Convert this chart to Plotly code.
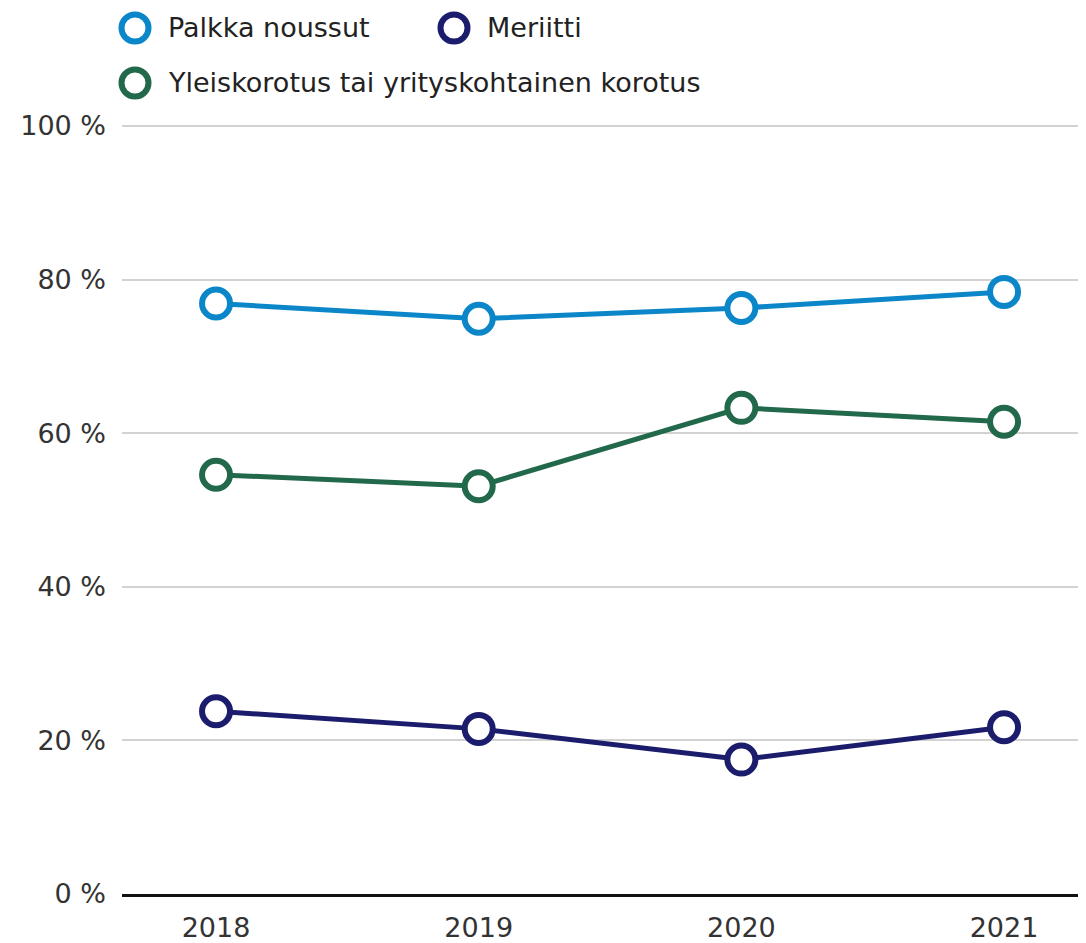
import plotly.graph_objects as go

years = [2018, 2019, 2020, 2021]
palkka = [76.9, 74.9, 76.3, 78.4]
meriitti = [23.8, 21.5, 17.5, 21.7]
yleis = [54.6, 53.1, 63.3, 61.5]
y_ticks = [0, 20, 40, 60, 80, 100]
y_ticktext = [f"{v} %" for v in y_ticks]

names = ["Palkka noussut", "Meriitti", "Yleiskorotus tai yrityskohtainen korotus"]
colors = ["#0a86c9", "#1b1d6c", "#22694c"]
values = [palkka, meriitti, yleis]

FONT = "DejaVu Sans"
W, H = 1078, 935
ML, MR, MT, MB = 114, 0, 116, 49
PW, PH = W - ML - MR, H - MT - MB

fig = go.Figure()
for name, vals, col in zip(names, values, colors):
    fig.add_trace(go.Scatter(
        x=years, y=vals, mode="lines+markers", name=name, showlegend=False,
        line=dict(color=col, width=5),
        marker=dict(size=28, color="white", line=dict(color=col, width=6)),
        cliponaxis=False,
    ))

# custom legend (page-pixel positions converted to paper coords)
def px2paper(fx, fy):
    return (fx - ML) / PW, (H - MB - fy) / PH

legend_items = [(names[0], colors[0], 127, 20), (names[1], colors[1], 446, 20), (names[2], colors[2], 127, 75)]
for name, col, cx, cy in legend_items:
    xp, yp = px2paper(cx, cy)
    r = 13.5
    fig.add_shape(type="circle", xref="paper", yref="paper",
                  xsizemode="pixel", ysizemode="pixel", xanchor=xp, yanchor=yp,
                  x0=-r, x1=r, y0=-r, y1=r,
                  line=dict(color=col, width=6), fillcolor="white")
    fig.add_annotation(text=name, xref="paper", yref="paper", x=xp, y=yp,
                       xshift=31, xanchor="left", yanchor="middle", showarrow=False,
                       font=dict(family=FONT, size=27, color="#222222"))

fig.update_layout(
    width=W, height=H,
    margin=dict(l=ML, r=MR, t=MT, b=MB, autoexpand=False),
    paper_bgcolor="white", plot_bgcolor="white",
    font=dict(family=FONT, size=27, color="#333333"),
    showlegend=False,
    xaxis=dict(
        range=[2017.642, 2021.312], tickvals=years, ticktext=[str(y) for y in years],
        showgrid=False, zeroline=False, showline=True, linecolor="#111111", linewidth=3,
        ticks="", ticklabelstandoff=8, tickfont=dict(family=FONT, size=27, color="#333333"),
        automargin=False,
    ),
    yaxis=dict(
        range=[0, 100.26], tickvals=y_ticks, ticktext=y_ticktext,
        showgrid=True, gridcolor="#d2d2d2", gridwidth=1.5, zeroline=False,
        showline=False, ticks="", ticklabelstandoff=15,
        tickfont=dict(family=FONT, size=27, color="#333333"),
        automargin=False,
    ),
)

fig.write_html("out.html")
